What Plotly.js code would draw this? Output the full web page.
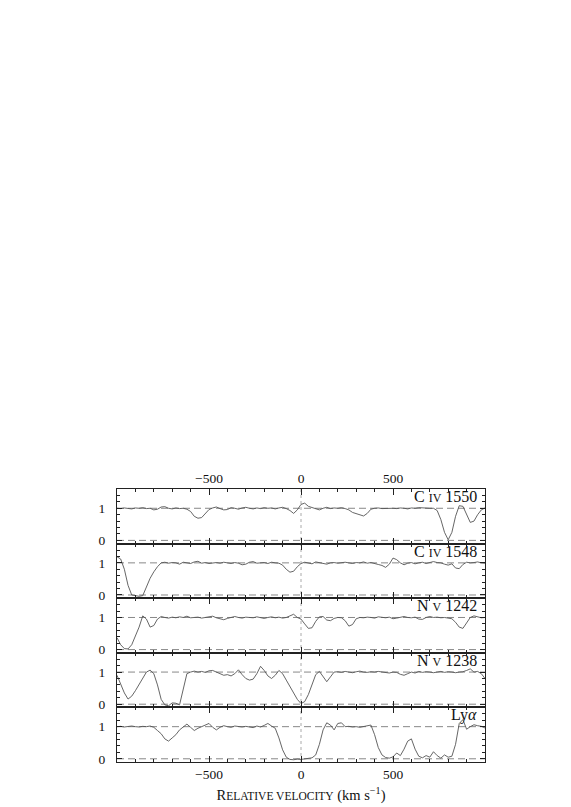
<!DOCTYPE html>
<html>
<head>
<meta charset="utf-8">
<script src="https://cdn.plot.ly/plotly-3.0.1.min.js"></script>
<style>
	html, body { margin: 0; padding: 0; background: #fff; }
	#plot { width: 571px; height: 807px; }
</style>
</head>
<body>
<div id="plot"></div>
<script>
// velocity grid (km/s)
const velocity = [
	-1000, -980, -960, -940, -920, -900, -880, -860, -840, -820,
	-800, -780, -760, -740, -720, -700, -680, -660, -640, -620,
	-600, -580, -560, -540, -520, -500, -480, -460, -440, -420,
	-400, -380, -360, -340, -320, -300, -280, -260, -240, -220,
	-200, -180, -160, -140, -120, -100, -80, -60, -40, -20,
	0, 20, 40, 60, 80, 100, 120, 140, 160, 180,
	200, 220, 240, 260, 280, 300, 320, 340, 360, 380,
	400, 420, 440, 460, 480, 500, 520, 540, 560, 580,
	600, 620, 640, 660, 680, 700, 720, 740, 760, 780,
	800, 820, 840, 860, 880, 900, 920, 940, 960, 980,
	1000
];

// normalised flux, one array per transition
const civ1550 = [
	1.00, 0.99, 1.01, 1.00, 0.98, 1.01, 1.00, 1.02, 0.99, 1.00,
	0.95, 0.97, 1.04, 1.05, 1.00, 0.98, 1.01, 0.99, 1.00, 0.97,
	0.90, 0.75, 0.69, 0.71, 0.82, 0.96, 1.01, 1.04, 0.99, 0.95,
	0.96, 1.02, 1.00, 0.97, 1.01, 1.03, 1.00, 0.98, 1.01, 0.99,
	1.02, 1.00, 1.01, 0.98, 1.01, 1.03, 0.99, 0.93, 0.84, 0.95,
	1.12, 1.16, 1.06, 1.02, 0.98, 0.95, 1.00, 1.03, 0.99, 1.01,
	1.00, 1.02, 0.99, 0.95, 0.87, 0.83, 0.79, 0.76, 0.84, 0.97,
	1.00, 1.01, 0.99, 1.00, 1.01, 1.00, 0.99, 1.01, 1.00, 0.98,
	1.01, 1.00, 1.02, 1.01, 0.99, 1.00, 1.00, 0.93, 0.65, 0.25,
	0.02, 0.25, 0.75, 1.08, 1.06, 0.82, 0.56, 0.60, 0.80, 0.95,
	1.01
];

const civ1548 = [
	1.19, 1.12, 0.80, 0.30, 0.00, -0.03, -0.04, -0.02, 0.25, 0.52,
	0.72, 0.88, 1.00, 1.02, 0.99, 1.01, 1.00, 0.96, 1.02, 1.00,
	0.98, 1.03, 1.05, 0.99, 1.01, 0.98, 1.00, 1.01, 0.99, 1.02,
	1.00, 0.98, 1.01, 0.99, 0.94, 0.96, 1.02, 1.04, 0.99, 1.00,
	1.01, 0.98, 1.02, 1.00, 0.99, 0.93, 0.80, 0.71, 0.74, 0.88,
	0.98, 1.02, 1.00, 0.97, 1.03, 1.01, 0.99, 0.96, 1.00, 1.01,
	0.99, 1.00, 1.02, 1.00, 0.98, 1.01, 1.00, 1.03, 0.99, 1.01,
	0.97, 0.95, 0.92, 0.86, 0.96, 1.15, 1.10, 1.00, 0.94, 0.99,
	1.01, 0.97, 1.00, 1.02, 0.98, 1.00, 1.04, 1.01, 1.00, 0.96,
	0.93, 0.97, 0.84, 0.82, 0.95, 1.02, 1.00, 1.01, 1.03, 1.00,
	0.99
];

const nv1242 = [
	0.37, 0.15, 0.03, 0.02, 0.15, 0.40, 0.70, 1.05, 0.95, 0.70,
	0.75, 0.95, 1.03, 1.00, 0.98, 1.01, 0.99, 1.02, 1.00, 1.04,
	0.99, 1.00, 1.01, 0.98, 1.00, 1.02, 1.04, 0.99, 0.96, 0.93,
	0.97, 1.01, 1.03, 1.00, 0.98, 1.01, 1.00, 0.99, 1.02, 1.00,
	0.97, 1.00, 1.02, 0.99, 1.01, 0.98, 1.00, 1.05, 1.10, 1.00,
	0.95, 0.80, 0.66, 0.68, 0.88, 1.02, 1.03, 0.92, 0.90, 0.97,
	1.00, 0.99, 0.90, 0.73, 0.78, 0.96, 1.00, 0.99, 1.01, 1.00,
	0.98, 1.02, 1.00, 0.99, 1.01, 0.96, 0.98, 1.01, 1.03, 1.00,
	0.99, 1.01, 0.95, 0.94, 1.00, 1.03, 1.00, 1.01, 0.99, 1.00,
	0.98, 0.96, 0.85, 0.70, 0.66, 0.82, 1.00, 1.05, 1.02, 0.99,
	1.00
];

const nv1238 = [
	0.90, 0.65, 0.35, 0.16, 0.25, 0.42, 0.60, 0.82, 1.00, 1.06,
	0.95, 0.60, 0.15, -0.02, -0.05, 0.04, 0.03, -0.02, 0.45, 0.95,
	1.00, 1.03, 1.00, 1.02, 0.99, 1.04, 1.05, 1.00, 0.93, 0.90,
	0.92, 0.88, 0.95, 1.07, 0.92, 0.80, 0.75, 0.78, 0.95, 1.18,
	1.05, 0.88, 0.80, 0.90, 1.05, 0.95, 0.75, 0.55, 0.35, 0.15,
	0.02, 0.08, 0.30, 0.62, 0.92, 1.02, 0.85, 0.70, 0.85, 1.00,
	1.01, 0.99, 1.02, 1.00, 0.98, 1.01, 1.03, 1.00, 0.99, 1.01,
	1.00, 1.02, 1.00, 0.98, 0.97, 1.00, 0.99, 0.93, 0.90, 0.95,
	1.00, 0.97, 1.02, 0.99, 1.01, 1.00, 0.98, 1.00, 1.02, 0.99,
	1.01, 1.00, 0.98, 1.00, 1.01, 1.05, 1.10, 1.00, 1.02, 0.95,
	0.80
];

const lya = [
	1.00, 1.01, 0.99, 1.00, 1.02, 1.00, 0.99, 1.01, 1.00, 1.02,
	0.98, 0.88, 0.78, 0.62, 0.55, 0.65, 0.75, 0.90, 1.00, 1.08,
	0.98, 0.88, 0.95, 1.00, 1.06, 1.10, 0.98, 0.90, 0.98, 1.03,
	1.00, 0.98, 1.02, 1.00, 0.99, 1.01, 1.00, 0.97, 1.02, 0.99,
	1.04, 1.10, 1.02, 0.95, 0.65, 0.28, 0.05, -0.02, -0.03, -0.01,
	-0.02, 0.00, 0.02, 0.03, 0.12, 0.45, 0.90, 1.12, 1.05, 0.90,
	1.10, 1.12, 1.00, 1.01, 0.99, 1.00, 0.98, 1.00, 1.02, 1.05,
	0.75, 0.35, 0.12, 0.04, 0.02, 0.06, 0.18, 0.10, 0.30, 0.55,
	0.62, 0.30, 0.08, 0.03, 0.10, 0.05, 0.22, 0.10, 0.02, 0.12,
	0.05, 0.08, 0.45, 1.10, 1.22, 0.92, 1.00, 1.06, 1.03, 1.01,
	0.96
];

// panels listed top to bottom
const panelLabels = [
	'C <span style="font-size:12px">IV</span> 1550',
	'C <span style="font-size:12px">IV</span> 1548',
	'N <span style="font-size:12px">V</span> 1242',
	'N <span style="font-size:12px">V</span> 1238',
	'Ly<i>\u03b1</i>'
];
const panelFlux = [ civ1550, civ1548, nv1242, nv1238, lya ];

const velTicks = [ -500, 0, 500 ];
const fluxTicks = [ 0, 1 ];
const refLevels = [ 0, 1 ];
const systemicVel = 0;

(function () {

	'use strict';

	const font = 'Liberation Serif, Times New Roman, serif';
	const ink = '#222';
	const nPanels = panelFlux.length;

	/**
	* axis suffix for panel i (0 = top) - numbered from the bottom up
	*/
	const suffix = ( i ) => {
		const k = nPanels - i;
		return k === 1 ? '' : String( k );
	};

	const data = [];
	const shapes = [];
	const annotations = [];
	const layout = {
		width: 571,
		height: 807,
		margin: { l: 117, r: 86, t: 489, b: 45 },
		paper_bgcolor: '#fff',
		plot_bgcolor: '#fff',
		showlegend: false,
		font: { family: font, size: 13, color: ink },
	};

	panelFlux.forEach(( flux, i ) => {
		const s = suffix( i );
		const k = nPanels - i;

		data.push({
			x: velocity,
			y: flux,
			xaxis: 'x' + s,
			yaxis: 'y' + s,
			type: 'scatter',
			mode: 'lines',
			line: { color: '#555', width: 0.9 },
			hoverinfo: 'skip',
		});

		const isBottom = ( k === 1 );
		const isTop = ( i === 0 );

		const xax = {
			range: [ -1000, 1000 ],
			anchor: 'y' + s,
			side: isTop ? 'top' : 'bottom',
			showgrid: false,
			zeroline: false,
			showline: true,
			linecolor: ink,
			linewidth: 1,
			mirror: 'allticks',
			ticks: 'inside',
			ticklen: 6,
			tickcolor: ink,
			tickmode: 'array',
			tickvals: velTicks,
			showticklabels: isBottom || isTop,
			tickfont: { family: font, size: 13.5, color: '#111' },
			minor: { tickmode: 'linear', tick0: 0, dtick: 100, ticks: 'inside', ticklen: 3, tickcolor: ink, showgrid: false },
		};
		if ( !isBottom ) xax.matches = 'x';
		if ( isBottom ) {
			xax.title = {
				text: 'R<span style="font-size:11.5px">ELATIVE VELOCITY</span> (km s<sup>\u22121</sup>)',
				font: { family: font, size: 14.5, color: '#111' },
				standoff: 8,
			};
		}
		layout['xaxis' + s] = xax;

		layout['yaxis' + s] = {
			domain: [ ( k - 1 ) / nPanels, k / nPanels ],
			range: [ -0.1, 1.6 ],
			anchor: 'x' + s,
			showgrid: false,
			zeroline: false,
			showline: true,
			linecolor: ink,
			linewidth: 1,
			mirror: 'allticks',
			ticks: 'inside',
			ticklen: 5,
			tickcolor: ink,
			tickmode: 'array',
			tickvals: fluxTicks,
			ticklabelstandoff: 8,
			tickfont: { family: font, size: 13.5, color: '#111' },
			minor: { tickmode: 'linear', tick0: 0, dtick: 0.2, ticks: 'inside', ticklen: 3, tickcolor: ink, showgrid: false },
		};

		// dashed continuum / zero levels
		refLevels.forEach(( lvl ) => {
			shapes.push({
				type: 'line',
				xref: 'x' + s + ' domain',
				yref: 'y' + s,
				x0: 0, x1: 1,
				y0: lvl, y1: lvl,
				line: { color: '#888', width: 1, dash: '7px,4px' },
				layer: 'below',
			});
		});

		annotations.push({
			text: panelLabels[i],
			xref: 'x' + s + ' domain',
			yref: 'y' + s + ' domain',
			x: 1, y: 1,
			xanchor: 'right',
			yanchor: 'top',
			xshift: -6,
			yshift: 3,
			showarrow: false,
			font: { family: font, size: 16, color: '#111' },
		});
	});

	// systemic velocity marker across all panels
	shapes.push({
		type: 'line',
		xref: 'x',
		yref: 'paper',
		x0: systemicVel, x1: systemicVel,
		y0: 0, y1: 1,
		line: { color: '#aaa', width: 1, dash: 'dot' },
		layer: 'below',
	});

	layout.shapes = shapes;
	layout.annotations = annotations;

	Plotly.newPlot( 'plot', data, layout, { displayModeBar: false, staticPlot: true } );

})();
</script>
</body>
</html>
